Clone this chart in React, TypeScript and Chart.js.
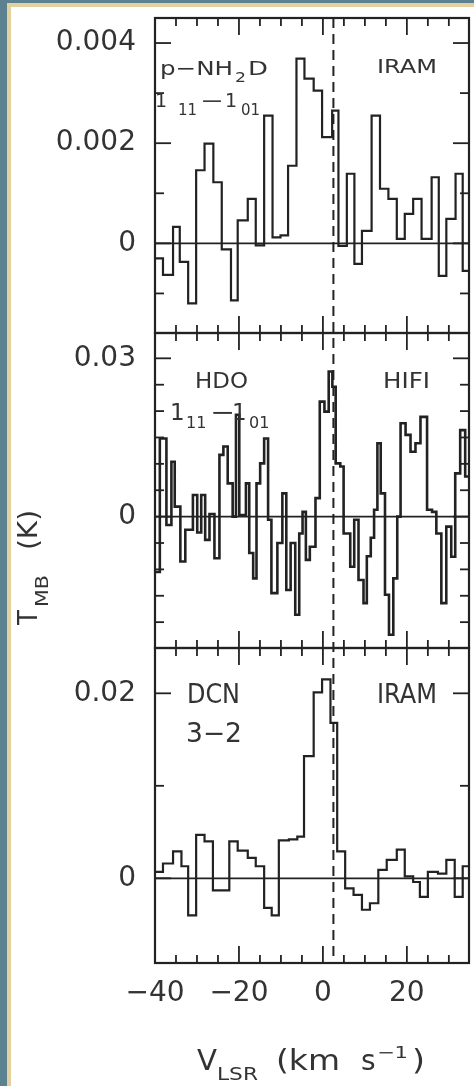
import React, { useEffect, useRef } from 'react';
import { Chart, registerables } from 'chart.js';

Chart.register(...registerables);

// ---------------- data ----------------
const velocityMin = -40;
const velocityMax = 34.8;
const velocityTicks = [-40, -35, -30, -25, -20, -15, -10, -5, 0, 5, 10, 15, 20, 25, 30];
const velocityLabelTicks = [-40, -20, 0, 20];
const velocityTickLabels = ['−40', '−20', '0', '20'];
const systemicVelocity = 2.5;

// p-NH2D 1_11-1_01 (IRAM): channel start edges (km/s) and T_MB (K)
const nh2dEdges = [-40, -38.1, -35.7, -34.1, -32.1, -30.2, -28.2, -26.1, -24.1, -21.9, -20.3, -17.9, -16.0, -14.0, -12.0, -10.1, -8.3, -6.3, -4.4, -2.2, -0.2, 2.2, 3.7, 5.7, 7.5, 9.3, 11.6, 13.6, 15.6, 17.6, 19.5, 21.5, 23.5, 25.9, 27.6, 29.4, 31.6, 33.3, 34.8];
const nh2dValues = [-0.0003, -0.00063, 0.00033, -0.00037, -0.0012, 0.00146, 0.00199, 0.00122, -0.00012, -0.00114, 0.00046, 0.00089, -0.00004, 0.00255, 0.00012, 0.00016, 0.00155, 0.00369, 0.00329, 0.00305, 0.00212, 0.00265, -0.00005, 0.00139, -0.00041, 0.00025, 0.00255, 0.00109, 0.00089, 0.00009, 0.00059, 0.00089, 0.00009, 0.00132, -0.00065, 0.00049, 0.00139, -0.00055];
const nh2dMin = -0.00179;
const nh2dMax = 0.0045;
const nh2dTicks = [-0.001, 0, 0.001, 0.002, 0.003, 0.004];
const nh2dLabelTicks = [0, 0.002, 0.004];
const nh2dTickLabels = ['0', '0.002', '0.004'];

// HDO 1_11-1_01 (HIFI)
const hdoEdges = [-40, -38.85, -37.28, -36.09, -35.30, -33.96, -32.78, -30.97, -29.94, -28.99, -28.05, -27.02, -25.84, -24.65, -23.71, -22.68, -21.50, -20.71, -19.92, -18.34, -17.55, -16.61, -15.82, -14.95, -14.00, -13.06, -12.27, -10.85, -9.66, -8.72, -7.69, -6.59, -5.64, -4.85, -4.06, -3.12, -1.77, -0.75, 0.36, 1.38, 2.25, 3.04, 4.14, 4.93, 6.51, 7.46, 8.48, 9.67, 10.46, 11.40, 12.19, 12.98, 13.77, 14.79, 15.74, 16.77, 17.71, 18.50, 19.69, 20.87, 22.05, 23.24, 24.81, 26.00, 27.02, 28.21, 29.39, 30.57, 31.52, 32.70, 33.89, 34.8];
const hdoValues = [-0.0105, 0.0148, -0.0016, 0.0104, 0.0019, -0.0085, -0.0025, 0.0041, -0.0030, 0.0041, -0.0044, 0.0005, -0.0079, 0.0117, 0.0133, 0.0063, 0.0000, 0.0193, 0.0003, 0.0063, -0.0069, -0.0117, 0.0063, 0.0101, 0.0148, -0.0006, -0.0145, -0.0050, 0.0044, -0.0139, -0.0050, -0.0186, -0.0032, 0.0009, -0.0082, -0.0057, 0.0035, 0.0218, 0.0199, 0.0275, 0.0246, 0.0101, 0.0095, -0.0032, -0.0095, -0.0006, -0.0120, -0.0164, -0.0075, -0.0040, 0.0013, 0.0139, 0.0044, -0.0148, -0.0224, -0.0117, 0.0000, 0.0177, 0.0155, 0.0123, 0.0139, 0.0189, 0.0013, 0.0009, -0.0032, -0.0164, -0.0019, -0.0076, 0.0082, 0.0164, 0.0076];
const hdoMin = -0.0249;
const hdoMax = 0.0348;
const hdoTicks = [-0.02, -0.015, -0.01, -0.005, 0, 0.005, 0.01, 0.015, 0.02, 0.025, 0.03];
const hdoLabelTicks = [0, 0.03];
const hdoTickLabels = ['0', '0.03'];

// DCN 3-2 (IRAM)
const dcnEdges = [-40, -38.1, -35.7, -33.7, -32.1, -30.2, -28.2, -26.2, -22.3, -20.3, -17.9, -16.0, -14.0, -12.2, -10.5, -8.1, -6.1, -4.5, -2.2, -0.2, 1.8, 3.4, 5.3, 7.3, 9.3, 11.2, 13.2, 15.2, 17.6, 19.5, 21.5, 23.1, 25.0, 27.4, 29.4, 31.4, 33.3, 34.8];
const dcnValues = [0.0007, 0.0016, 0.0029, 0.0013, -0.004, 0.0047, 0.004, -0.0013, 0.004, 0.003, 0.0022, 0.0013, -0.0032, -0.004, 0.0041, 0.0042, 0.0045, 0.0132, 0.0201, 0.0215, 0.0168, 0.0029, -0.0011, -0.0018, -0.0034, -0.0027, 0.0009, 0.002, 0.0031, 0.0002, -0.0004, -0.002, 0.0007, 0.0005, 0.002, -0.002, 0.0013];
const dcnMin = -0.00916;
const dcnMax = 0.0249;
const dcnTicks = [0, 0.01, 0.02];
const dcnLabelTicks = [0, 0.02];
const dcnTickLabels = ['0', '0.02'];

// ---------------- styling ----------------
const INK = '#222222';
const TEXT = '#333333';
const FONT = '"DejaVu Sans", sans-serif';
const W = 474;
const H = 1086;

const stepPoints = (edges: number[], values: number[]) =>
  edges.map((x, i) => ({ x, y: values[Math.min(i, values.length - 1)] }));

function yScale(min: number, max: number, weight: number, labelTicks: number[], labels: string[]) {
  return {
    type: 'linear',
    position: 'left',
    stack: 'panels',
    stackWeight: 1,
    weight,
    min,
    max,
    grid: { display: false, drawTicks: false },
    border: { display: false },
    afterBuildTicks: (s: any) => {
      s.ticks = labelTicks.map((v) => ({ value: v }));
    },
    afterFit: (s: any) => {
      s.width = 155;
      s.paddingTop = 0;
      s.paddingBottom = 0;
    },
    ticks: {
      autoSkip: false,
      padding: 19,
      color: TEXT,
      font: { family: FONT, size: 28 },
      callback: (_v: any, i: number) => labels[i],
    },
  };
}

// draws text with its left edge at x; width > 0 stretches it horizontally to that advance width
function fitText(ctx: CanvasRenderingContext2D, text: string, x: number, baseline: number, size: number, width = 0) {
  ctx.font = `${size}px ${FONT}`;
  const w = ctx.measureText(text).width;
  const sx = width > 0 ? width / w : 1;
  ctx.save();
  ctx.translate(x, baseline);
  ctx.scale(sx, 1);
  ctx.fillText(text, 0, 0);
  ctx.restore();
}

const framePlugin = {
  id: 'spectraFrames',
  afterDatasetsDraw(chart: any) {
    const { ctx, chartArea } = chart;
    const xs = chart.scales.x;
    const panels = [
      { s: chart.scales.yTop, ticks: nh2dTicks, majors: nh2dLabelTicks },
      { s: chart.scales.yMid, ticks: hdoTicks, majors: hdoLabelTicks },
      { s: chart.scales.yBot, ticks: dcnTicks, majors: dcnLabelTicks },
    ];
    const L = chartArea.left;
    const R = chartArea.right;
    const line = (x1: number, y1: number, x2: number, y2: number) => {
      ctx.beginPath();
      ctx.moveTo(x1, y1);
      ctx.lineTo(x2, y2);
      ctx.stroke();
    };
    ctx.save();
    ctx.strokeStyle = INK;
    for (const p of panels) {
      const top = p.s.top;
      const bottom = p.s.bottom;
      ctx.lineWidth = 1.8;
      const y0 = p.s.getPixelForValue(0);
      line(L, y0, R, y0);
      ctx.lineWidth = 1.8;
      for (const v of p.ticks) {
        const y = p.s.getPixelForValue(v);
        const len = p.majors.includes(v) ? 16 : 9;
        line(L, y, L + len, y);
        line(R, y, R - len, y);
      }
      for (const v of velocityTicks) {
        const x = xs.getPixelForValue(v);
        const len = velocityLabelTicks.includes(v) ? 17 : 8;
        line(x, top, x, top + len);
        line(x, bottom, x, bottom - len);
      }
      ctx.lineWidth = 2.2;
      ctx.strokeRect(L, top, R - L, bottom - top);
    }
    ctx.setLineDash([10, 6]);
    ctx.lineWidth = 2;
    const xv = xs.getPixelForValue(systemicVelocity);
    line(xv, chartArea.top, xv, chartArea.bottom);
    ctx.restore();

    // panel labels
    ctx.save();
    ctx.fillStyle = TEXT;
    ctx.textAlign = 'left';
    ctx.textBaseline = 'alphabetic';
    // top panel
    fitText(ctx, 'p−NH', 160, 75, 20, 73);
    fitText(ctx, '2', 235, 82, 14, 11);
    fitText(ctx, 'D', 248, 75, 20, 20);
    fitText(ctx, '1', 155, 107, 19);
    fitText(ctx, '11', 178, 115, 15);
    fitText(ctx, '−', 200, 107, 19, 24);
    fitText(ctx, '1', 225, 107, 19);
    fitText(ctx, '01', 241, 115, 15);
    fitText(ctx, 'IRAM', 377, 73, 20, 60);
    // middle panel
    fitText(ctx, 'HDO', 195, 388, 22, 53);
    fitText(ctx, 'HIFI', 383, 388, 22, 47);
    fitText(ctx, '1', 170, 420, 23);
    fitText(ctx, '11', 186, 428, 16);
    fitText(ctx, '−', 210, 420, 23, 25);
    fitText(ctx, '1', 232, 420, 23);
    fitText(ctx, '01', 249, 428, 16);
    // bottom panel
    fitText(ctx, 'DCN', 187, 703, 26, 53);
    fitText(ctx, '3−2', 186, 742, 26, 56);
    fitText(ctx, 'IRAM', 377, 703, 26, 60);

    // x-axis title: V_LSR (km s^-1)
    fitText(ctx, 'V', 197, 1070, 29, 20);
    fitText(ctx, 'LSR', 217, 1080, 18, 41);
    fitText(ctx, '(km', 276, 1070, 28, 64);
    fitText(ctx, 's', 361, 1070, 28);
    fitText(ctx, '−1', 377, 1058, 16, 31);
    fitText(ctx, ')', 412, 1070, 28, 13);

    // y-axis title: T_MB (K), rotated
    ctx.rotate(-Math.PI / 2);
    fitText(ctx, 'T', -625, 37, 27, 15);
    fitText(ctx, 'MB', -607, 48, 18, 32);
    fitText(ctx, '(K)', -550, 37, 27, 40);
    ctx.restore();
  },
};

export default function App() {
  const canvasRef = useRef<HTMLCanvasElement | null>(null);

  useEffect(() => {
    const canvas = canvasRef.current;
    if (!canvas) return;
    const lineStyle = {
      borderColor: INK,
      borderWidth: 2.2,
      pointRadius: 0,
      fill: false,
      stepped: 'before' as const,
    };
    const chart = new Chart(canvas, {
      type: 'line',
      data: {
        datasets: [
          { label: 'p-NH2D 1_11-1_01', data: stepPoints(nh2dEdges, nh2dValues), yAxisID: 'yTop', ...lineStyle },
          { label: 'HDO 1_11-1_01', data: stepPoints(hdoEdges, hdoValues), yAxisID: 'yMid', ...lineStyle, borderWidth: 2.6 },
          { label: 'DCN 3-2', data: stepPoints(dcnEdges, dcnValues), yAxisID: 'yBot', ...lineStyle },
        ],
      },
      options: {
        animation: false,
        responsive: false,
        maintainAspectRatio: false,
        devicePixelRatio: 1,
        layout: { autoPadding: false, padding: { left: 0, right: 5, top: 18, bottom: 0 } },
        plugins: { legend: { display: false }, tooltip: { enabled: false } },
        scales: {
          x: {
            type: 'linear',
            position: 'bottom',
            min: velocityMin,
            max: velocityMax,
            grid: { display: false, drawTicks: false },
            border: { display: false },
            afterBuildTicks: (s: any) => {
              s.ticks = velocityLabelTicks.map((v) => ({ value: v }));
            },
            afterFit: (s: any) => {
              s.height = 123;
              s.paddingLeft = 0;
              s.paddingRight = 0;
            },
            ticks: {
              autoSkip: false,
              maxRotation: 0,
              padding: 14,
              color: TEXT,
              font: { family: FONT, size: 28 },
              callback: (_v: any, i: number) => velocityTickLabels[i],
            },
          },
          yBot: yScale(dcnMin, dcnMax, 1, dcnLabelTicks, dcnTickLabels),
          yMid: yScale(hdoMin, hdoMax, 2, hdoLabelTicks, hdoTickLabels),
          yTop: yScale(nh2dMin, nh2dMax, 3, nh2dLabelTicks, nh2dTickLabels),
        } as any,
      },
      plugins: [framePlugin],
    });
    return () => chart.destroy();
  }, []);

  return (
    <div style={{ position: 'absolute', left: 0, top: 0, width: W, height: H, background: '#ffffff', overflow: 'hidden' }}>
      <div style={{ position: 'absolute', left: 0, top: 0, width: 7, height: H, background: '#5c8190' }} />
      <div style={{ position: 'absolute', left: 0, top: 0, width: W, height: 3, background: '#5c8190' }} />
      <div style={{ position: 'absolute', left: 7, top: 3, width: 4, height: H - 3, background: '#e4d09e' }} />
      <div style={{ position: 'absolute', left: 7, top: 3, width: W - 7, height: 4, background: '#e4d09e' }} />
      <canvas ref={canvasRef} width={W} height={H} style={{ position: 'absolute', left: 0, top: 0, width: W, height: H }} />
    </div>
  );
}
